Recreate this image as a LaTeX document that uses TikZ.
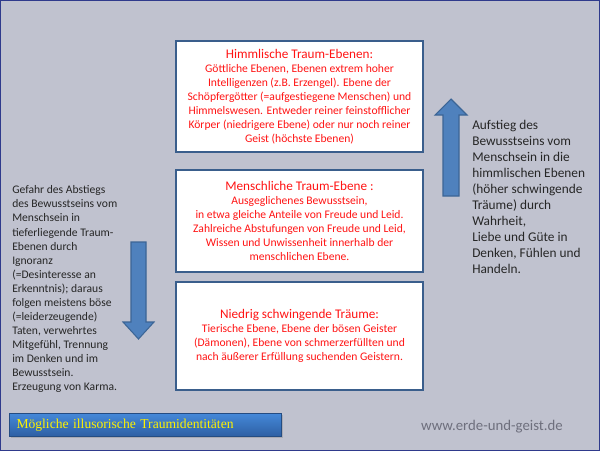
\documentclass[tikz,border=0pt]{standalone}
\usepackage{fontspec}
\setmainfont{Carlito}
\newfontfamily\captionserif{Liberation Serif}
\usepackage{tikz}
\usetikzlibrary{shadows}
\definecolor{canvas}{HTML}{C0C2CF}
\definecolor{frameblue}{HTML}{2F3A8C}
\definecolor{boxline}{HTML}{3A5E8C}
\definecolor{dreamred}{HTML}{FF1414}
\definecolor{arrowfill}{HTML}{4F81BD}
\definecolor{arrowline}{HTML}{3C6596}
\definecolor{bannertop}{HTML}{4488D8}
\definecolor{bannerbottom}{HTML}{2D5FA3}
\definecolor{sitegray}{HTML}{6E6F7D}
\tikzset{
  level/.style={
    draw=boxline,
    line width=1.5pt,
    fill=white,
    align=center,
    text=dreamred,
    font=\fontsize{8.7}{10.5}\selectfont,
    inner sep=0pt,
    minimum width=185.25pt
  },
  sidetext/.style={anchor=north west, align=left, inner sep=0pt, text=black!85},
  blockarrow/.style={fill=arrowfill, draw=arrowline, line width=0.8pt, line join=miter},
  banner/.style={
    draw=bannerbottom!80!black,
    line width=0.4pt,
    top color=bannertop,
    bottom color=bannerbottom,
    drop shadow={shadow xshift=0.8pt, shadow yshift=-1.2pt, opacity=0.35},
    minimum width=204pt,
    minimum height=17.25pt,
    text width=193.5pt,
    inner xsep=5.25pt,
    align=left,
    text=yellow,
    font=\captionserif\fontsize{10.2}{12}\selectfont
  },
  site/.style={font=\fontsize{11.1}{13}\selectfont, text=sitegray}
}
\newcommand{\leveltitle}[1]{{\fontsize{9.9}{10.5}\selectfont #1}}

\begin{document}
\begin{tikzpicture}[x=0.75pt,y=-0.75pt]
\useasboundingbox (0,0) rectangle (600,451);
\fill[canvas] (0,0) rectangle (600,451);
\draw[frameblue, line width=1.1pt] (0.75,0.75) rectangle (599.25,450.25);

% the three dream levels
\node[level, minimum height=83.25pt] (heaven) at (299.5,96.5)
  {\leveltitle{Himmlische Traum-Ebenen:}\\
   Göttliche Ebenen, Ebenen extrem hoher\\
   Intelligenzen (z.B. Erzengel). Ebene der\\
   Schöpfergötter (=aufgestiegene Menschen) und\\
   Himmelswesen. Entweder reiner feinstofflicher\\
   Körper (niedrigere Ebene) oder nur noch reiner\\
   Geist (höchste Ebenen)};
\node[level, minimum height=76.5pt] (human) at (299.5,221)
  {\leveltitle{Menschliche Traum-Ebene :}\\
   Ausgeglichenes Bewusstsein,\\
   in etwa gleiche Anteile von Freude und Leid.\\
   Zahlreiche Abstufungen von Freude und Leid,\\
   Wissen und Unwissenheit innerhalb der\\
   menschlichen Ebene.};
\node[level, minimum height=81pt] (low) at (299.5,335.5)
  {\leveltitle{Niedrig schwingende Träume:}\\
   Tierische Ebene, Ebene der bösen Geister\\
   (Dämonen), Ebene von schmerzerfüllten und\\
   nach äußerer Erfüllung suchenden Geistern.};

% descent on the left
\node[sidetext, font=\fontsize{8.7}{10.55}\selectfont] (descent) at (12,185.5)
  {Gefahr des Abstiegs\\
   des Bewusstseins vom\\
   Menschsein in\\
   tieferliegende Traum-\\
   Ebenen durch\\
   Ignoranz\\
   (=Desinteresse an\\
   Erkenntnis); daraus\\
   folgen meistens böse\\
   (=leiderzeugende)\\
   Taten, verwehrtes\\
   Mitgefühl, Trennung\\
   im Denken und im\\
   Bewusstsein.\\
   Erzeugung von Karma.};
\draw[blockarrow] (131,242) -- (146,242) -- (146,322) -- (154,322) -- (138.5,339)
  -- (123,322) -- (131,322) -- cycle;

% ascent on the right
\draw[blockarrow] (443,196) -- (459,196) -- (459,115) -- (467,115) -- (451,99)
  -- (435,115) -- (443,115) -- cycle;
\node[sidetext, font=\fontsize{10}{12}\selectfont] (ascent) at (472,119.5)
  {Aufstieg des\\
   Bewusstseins vom\\
   Menschsein in die\\
   himmlischen Ebenen\\
   (höher schwingende\\
   Träume) durch\\
   Wahrheit,\\
   Liebe und Güte in\\
   Denken, Fühlen und\\
   Handeln.};

\node[banner] (caption) at (145.5,425) {Mögliche illusorische Traumidentitäten};
\node[site] (website) at (492,427) {www.erde-und-geist.de};
\end{tikzpicture}
\end{document}
